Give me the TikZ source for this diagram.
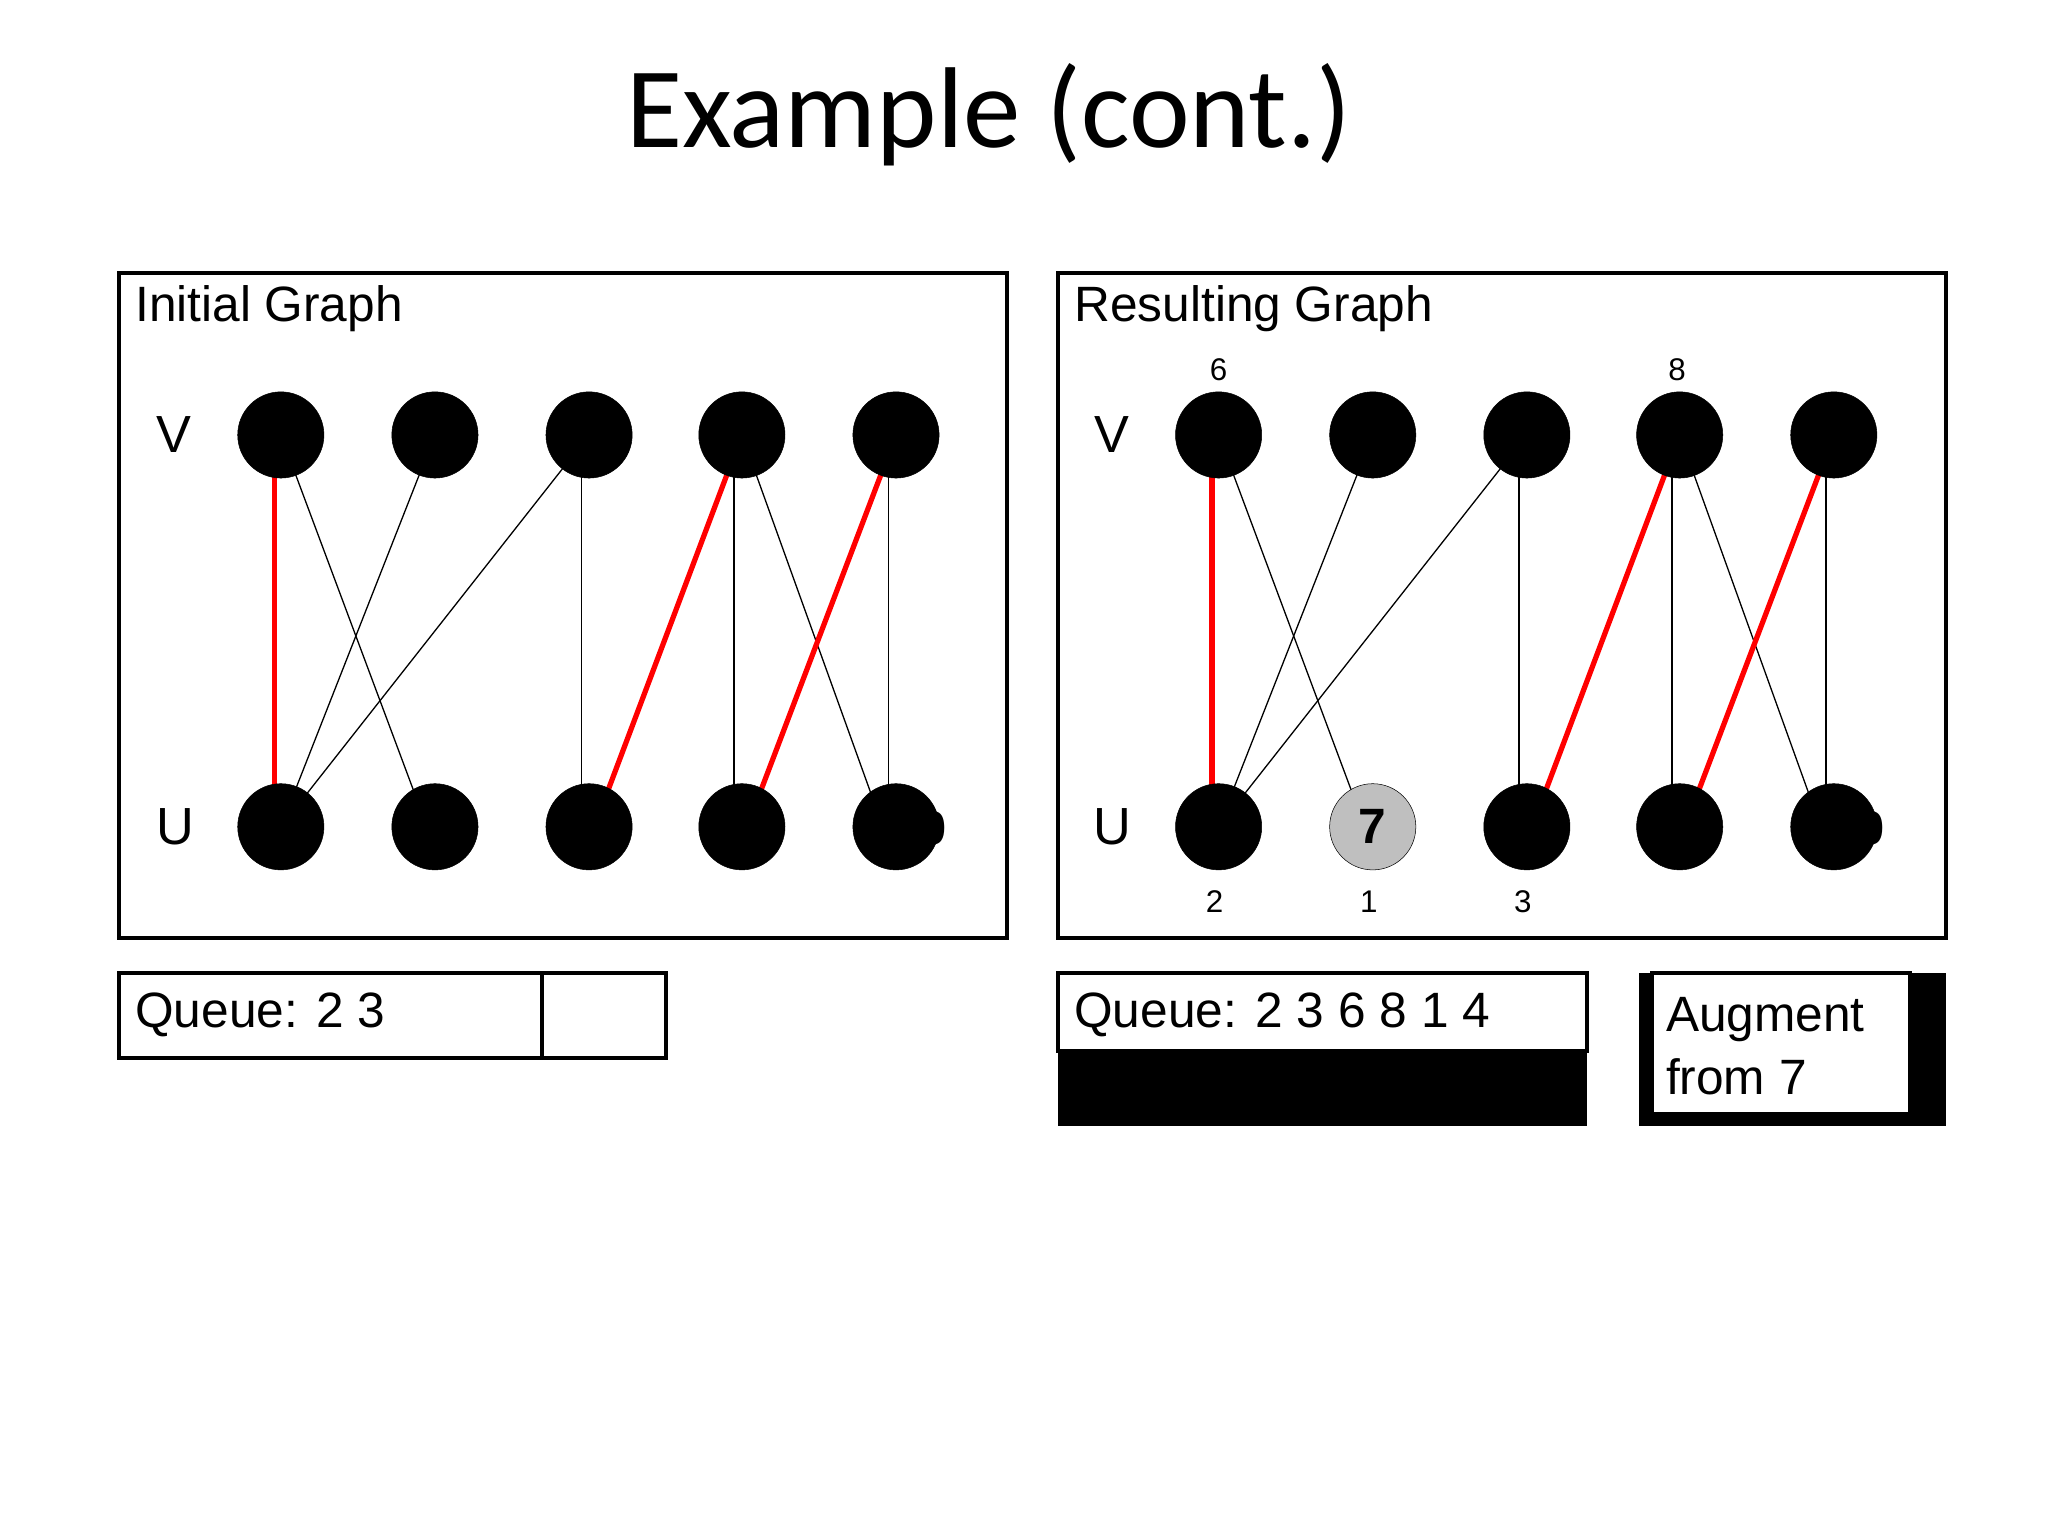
\documentclass[tikz,border=0pt]{standalone}
\usepackage{fontspec}
\setmainfont{Liberation Sans}
\newfontfamily\titlefont{Carlito}
\begin{document}
\begin{tikzpicture}[x=1pt,y=-1pt,
  vtx/.style={circle,fill=black,draw=black,minimum size=66pt,inner sep=0pt},
  grey/.style={circle,fill=black!25,draw=black,thin,minimum size=66pt,inner sep=0pt,font=\fontsize{38}{40}\selectfont\bfseries},
  e/.style={black,line width=1pt},
  m/.style={red,line width=4pt},
  frame/.style={draw=black,line width=3pt},
  lbl/.style={font=\fontsize{38}{42}\selectfont,anchor=west},
  num/.style={font=\fontsize{24}{26}\selectfont}]
\useasboundingbox (0,0) rectangle (1568,1176);
\node[font=\titlefont\fontsize{88}{96}\selectfont] (title) at (757,88) {Example (cont.)};
% frames
\node[frame,minimum width=680pt,minimum height=509pt,inner sep=0pt] (fL) at (431,463.5) {};
\node[frame,minimum width=680pt,minimum height=509pt,inner sep=0pt] (fR) at (1150,463.5) {};
\node[lbl] (tL) at (100,236) {Initial Graph};
\node[lbl] (tR) at (819,236) {Resulting Graph};
\foreach \o/\s in {0/L,718/R}{
  \node[font=\fontsize{40}{42}\selectfont] (V\s) at (133+\o,333) {V};
  \node[font=\fontsize{40}{42}\selectfont] (U\s) at (134+\o,633) {U};
  \node[font=\fontsize{36}{38}\selectfont\bfseries] (ten\s) at (705+\o,634) {10};
}
% left nodes
\foreach \i/\x in {1/215,2/333,3/451,4/568,5/686}{
  \coordinate (lv\i) at (\x,333);
  \coordinate (lu\i) at (\x,633);
  \coordinate (rv\i) at (\x+718,333);
  \coordinate (ru\i) at (\x+718,633);
}
\foreach \s in {l,r}{
  \draw[m] ([xshift=-5pt]\s v1) -- ([xshift=-5pt]\s u1);
  \draw[e] (\s v1) -- ([xshift=-6pt]\s u2);
  \draw[e] (\s v2) -- (\s u1);
  \draw[e] (\s v3) -- (\s u1);
  \draw[e] ([xshift=-6pt]\s v3) -- ([xshift=-6pt]\s u3);
  \draw[m] (\s v4) -- ([xshift=4pt]\s u3);
  \draw[e] ([xshift=-6pt]\s v4) -- ([xshift=-6pt]\s u4);
  \draw[e] (\s v4) -- ([xshift=-10pt]\s u5);
  \draw[m] (\s v5) -- ([xshift=4pt]\s u4);
  \draw[e] ([xshift=-6pt]\s v5) -- ([xshift=-6pt]\s u5);
}
\foreach \i in {1,...,5}{
  \node[vtx] (nlv\i) at (lv\i) {};
  \node[vtx] (nlu\i) at (lu\i) {};
  \node[vtx] (nrv\i) at (rv\i) {};
}
\foreach \i in {1,3,4,5}{ \node[vtx] (nru\i) at (ru\i) {}; }
\node[grey] (nru2) at (ru2) {7};
\node[num] (l6) at (933,283) {6};
\node[num] (l8) at (1284,283) {8};
\node[num] (l2) at (930,690) {2};
\node[num] (l1) at (1048,690) {1};
\node[num] (l3) at (1166,690) {3};
% queue boxes
\draw[frame] (91,745) rectangle (510,810);
\draw[frame] (415,745) -- (415,810);
\node[lbl] (qL) at (100,777) {Queue: 2 3};
\fill[black] (810,800) rectangle (1215,862);
\draw[frame,fill=white] (810,745) rectangle (1215,805);
\node[lbl] (qR) at (819,777) {Queue: 2 3 6 8 1 4};
\fill[black] (1255,745) rectangle (1490,862);
\draw[frame,fill=white] (1265,745) rectangle (1462,853);
\node[lbl,align=left,font=\fontsize{38}{48}\selectfont] (aug) at (1272,801) {Augment\\from 7};
\end{tikzpicture}
\end{document}
